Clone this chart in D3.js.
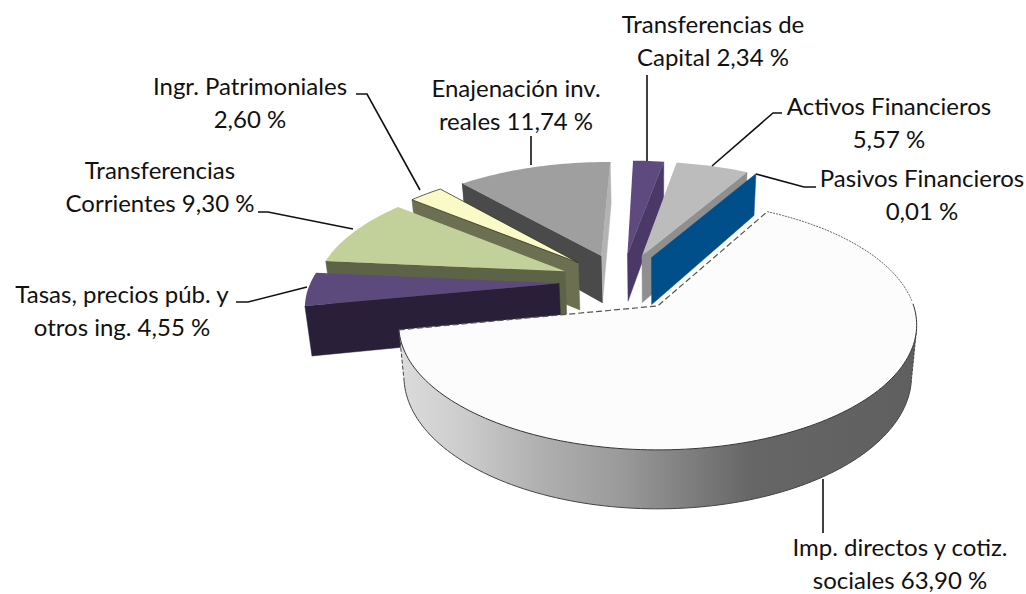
<!DOCTYPE html>
<html lang="en">
<head>
    <meta charset="UTF-8">
    <title>Pie 3D</title>
    <script src="https://d3js.org/d3.v7.min.js"></script>
    <style>
        body { margin: 0; background: #fff; }
        text {
            font-family: Lato, 'Noto Sans', sans-serif;
            font-size: 24px;
            fill: #111;
            text-anchor: middle;
        }
        .leader { fill: none; stroke: #111; stroke-width: 1.6; }
    </style>
</head>
<body>
<script>
    const width  = 1026;
    const height = 594;

    // clockwise from the big slice, second label line gets the value appended
    const labelFirst  = ["Imp. directos y cotiz.", "Tasas, precios púb. y", "Transferencias", "Ingr. Patrimoniales",
                         "Enajenación inv.", "Transferencias de", "Activos Financieros", "Pasivos Financieros"];
    const labelSecond = ["sociales ", "otros ing. ", "Corrientes ", "", "reales ", "Capital ", "", ""];
    const values      = [63.90, 4.55, 9.30, 2.60, 11.74, 2.34, 5.57, 0.01];

    const topColors  = ["#fcfcfc", "#5c4a7c", "#c2d199", "#fafac8", "#9f9f9f", "#5f4a80", "#bcbcbc", "#004f8a"];
    const wallColors = ["url(#side)", "#2a1f38", "#5c6346", "#6d6f52", "#4a4a4a", "#4a3868", "#8f8f8f", "#004f8a"];
    const endColors  = ["url(#side)", "#2a1f38", "#5c6346", "#6d6f52", "#b3b3b3", "#4a3868", "#8f8f8f", "#004f8a"];
    const drawOrder  = [4, 5, 6, 7, 3, 2, 1, 0];

    // label centre x, first baseline
    const labelX = [900, 122, 160, 250, 516, 713, 889, 922];
    const labelY = [556, 303, 179,  95,  97,  33, 115, 187];
    const leaders = [
        [[823, 479], [823, 533]],
        [[307, 287], [248, 302], [236, 302]],
        [[353, 229], [268, 212], [258, 212]],
        [[420, 190], [367, 94], [356, 94]],
        [[531, 165], [531, 136]],
        [[647, 161], [647, 75]],
        [[712, 166], [773, 113], [782, 113]],
        [[756, 174], [804, 187], [816, 187]]
    ];

    // unit disc -> screen, with a bit of perspective
    const xScale = d3.scaleLinear().domain([-1, 1]).range([399, 917]);
    const yScale = d3.scaleLinear().domain([-1, 1]).range([200, 450]);
    const persp = -0.152;
    const thickness = 50;
    const converge = 0.02;
    const centre = [-0.148, -0.203];
    const explosion = 0.25;

    const project = (x, y, z) => {
        const w = 1 + persp * y;
        let sx = xScale(x * Math.sqrt(1 - persp * persp) / w);
        let sy = yScale((y + persp) / w);
        sx += (xScale(0) - sx) * converge * z;
        sy += thickness / w * z;
        return [sx, sy];
    };

    const pie = d3.pie()
            .value(d => d)
            .sort(null)
            .startAngle(29 * Math.PI / 180)
            .endAngle(29 * Math.PI / 180 + 2 * Math.PI);

    const slices = pie(values).map((d, i) => {
        const mid = (d.startAngle + d.endAngle) / 2;
        const ox = centre[0] + explosion * Math.sin(mid);
        const oy = centre[1] - explosion * Math.cos(mid);
        const steps = Math.max(2, Math.ceil((d.endAngle - d.startAngle) * 40));
        const angles = d3.range(steps + 1).map(k => d.startAngle + (d.endAngle - d.startAngle) * k / steps);
        return {
            i, mid, angles,
            apex: z => project(ox, oy, z),
            rim: (a, z) => project(ox + Math.sin(a), oy - Math.cos(a), z)
        };
    });

    const svg = d3.select("body").append("svg")
            .attr("width", width).attr("height", height)
            .style("display", "block");

    const grad = svg.append("defs").append("linearGradient")
            .attr("id", "side")
            .attr("gradientUnits", "userSpaceOnUse")
            .attr("x1", xScale(-1)).attr("x2", xScale(1)).attr("y1", 0).attr("y2", 0);
    [[0, "#dcdcdc"], [0.12, "#cdcdcd"], [0.27, "#b0b0b0"], [0.43, "#9a9a9a"],
     [0.58, "#7a7a7a"], [0.68, "#666"], [1, "#5f5f5f"]].forEach(s => {
        grad.append("stop").attr("offset", s[0]).attr("stop-color", s[1]);
    });

    const line = d3.line();
    const closed = d3.line().curve(d3.curveLinearClosed);
    const cross = (a, b) => a[0] * b[1] - a[1] * b[0];

    const drawSlice = s => {
        const g = svg.append("g");
        const color = wallColors[s.i];
        const apexTop = s.apex(0);
        const midRim = s.rim(s.mid, 0);

        // radial cut walls, only the ones facing us
        [s.angles[0], s.angles[s.angles.length - 1]].forEach((a, k) => {
            const outer = s.rim(a, 0);
            const e = [outer[0] - apexTop[0], outer[1] - apexTop[1]];
            const body = [midRim[0] - apexTop[0], midRim[1] - apexTop[1]];
            if (cross(e, body) * cross(e, [0, 1]) < 0) {
                const c = k === 0 ? color : endColors[s.i];
                g.append("path").attr("fill", c).attr("stroke", c).attr("stroke-width", 0.5)
                    .attr("d", closed([apexTop, outer, s.rim(a, 1), s.apex(1)]));
            }
        });

        // gray slice: dark wall under the apex stays in front of the light end wall
        if (s.i === 4) {
            const a = s.angles[0];
            g.append("path").attr("fill", color)
                .attr("d", closed([s.apex(0), s.rim(a, 0), s.rim(a, 1), s.apex(1)]));
        }

        // outer wall where the rim runs right to left, i.e. the near side
        const near = s.angles.filter((a, k) => k > 0 && s.rim(a, 0)[0] < s.rim(s.angles[k - 1], 0)[0]);
        if (near.length > 1) {
            const upper = near.map(a => s.rim(a, 0));
            const lower = near.map(a => s.rim(a, 1)).reverse();
            g.append("path").attr("fill", color).attr("d", closed(upper.concat(lower)));
            if (s.i === 0) {
                g.append("path").attr("fill", "none").attr("stroke", "#444").attr("stroke-width", 1)
                    .attr("d", line(near.map(a => s.rim(a, 1))));
                g.append("path").attr("fill", "none").attr("stroke", "#444").attr("stroke-width", 1)
                    .attr("stroke-dasharray", "4 2")
                    .attr("d", line([s.rim(near[near.length - 1], 0), s.rim(near[near.length - 1], 1)]));
                g.append("path").attr("fill", "none").attr("stroke", "#444").attr("stroke-width", 1)
                    .attr("stroke-dasharray", "3 1")
                    .attr("d", line([s.rim(near[0], 0), s.rim(near[0], 1)]));
            }
        }

        // top face
        const top = [apexTop].concat(s.angles.map(a => s.rim(a, 0)));
        g.append("path").attr("fill", topColors[s.i]).attr("d", closed(top))
            .attr("stroke", s.i === 3 ? "#33331f" : "none").attr("stroke-width", 0.8);

        if (s.i === 0) {
            const back = s.angles.filter(a => a <= s.angles[0] + 60 * Math.PI / 180);
            const front = s.angles.filter(a => a >= s.angles[0] + 60 * Math.PI / 180);
            g.append("path").attr("fill", "none").attr("stroke", "#666").attr("stroke-width", 1)
                .attr("stroke-dasharray", "2 1").attr("d", line(back.map(a => s.rim(a, 0))));
            g.append("path").attr("fill", "none").attr("stroke", "#333").attr("stroke-width", 1)
                .attr("d", line(front.map(a => s.rim(a, 0))));
            g.append("path").attr("fill", "none").attr("stroke", "#555").attr("stroke-width", 1.2)
                .attr("stroke-dasharray", "6 3")
                .attr("d", line([s.rim(s.angles[s.angles.length - 1], 0), apexTop, s.rim(s.angles[0], 0)]));
        }
    };

    drawOrder.forEach(i => drawSlice(slices[i]));

    svg.selectAll("path.leader")
            .data(leaders).enter()
            .append("path").attr("class", "leader")
            .attr("d", d => line(d));

    const comma = v => d3.format(".2f")(v).replace(".", ",") + " %";

    const labels = svg.selectAll("g.label")
            .data(values).enter()
            .append("g").attr("class", "label");

    labels.append("text")
            .attr("x", (d, i) => labelX[i])
            .attr("y", (d, i) => labelY[i])
            .text((d, i) => labelFirst[i]);

    labels.append("text")
            .attr("x", (d, i) => labelX[i])
            .attr("y", (d, i) => labelY[i] + 33)
            .text((d, i) => labelSecond[i] + comma(d));
</script>
</body>
</html>
